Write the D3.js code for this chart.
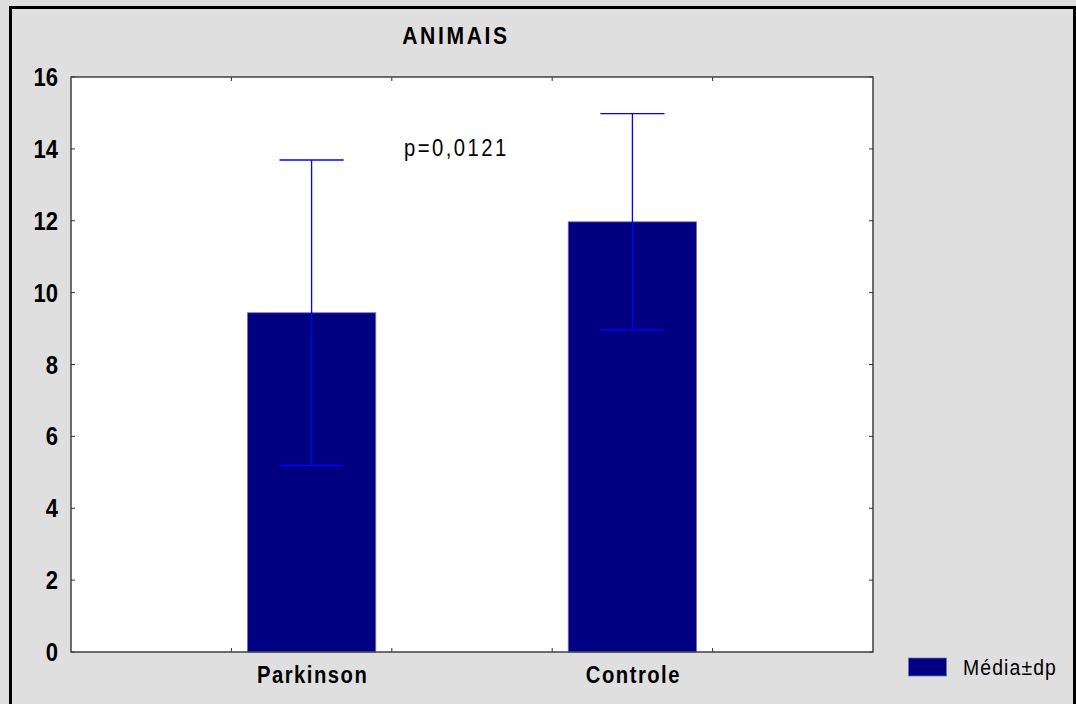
<html>
<meta charset='utf-8'>
<head>
    <script src="https://d3js.org/d3.v7.min.js"></script>
    <style>
      body { margin: 0; background: #dfdfdf; }
      text { font-family: "Liberation Sans", Arial, sans-serif; }
    </style>
</head>
<body>
<div id='viz'></div>
<script>
    // data
    let categories = ['Parkinson', 'Controle'];
    let means = [9.44, 11.97];
    let sds = [4.25, 3.01];
    let yTicks = [0, 2, 4, 6, 8, 10, 12, 14, 16];
    let title = 'ANIMAIS';
    let note = 'p=0,0121';
    let legendLabel = 'Média±dp';

    let width = 1076, height = 704;
    let margin = {left: 71, top: 77, right: 203, bottom: 52};
    let w = width - margin.left - margin.right;
    let h = height - margin.top - margin.bottom;
    let narrow = 0.88; // the original font is a condensed one

    let svg = d3.select('#viz').append('svg')
                .attr('width', width)
                .attr('height', height);

    // outer frame
    svg.append('rect')
       .attr('x', 0).attr('y', 0)
       .attr('width', width).attr('height', height)
       .attr('fill', '#dfdfdf');
    svg.append('path')
       .attr('d', `M10.5,${height + 5}V7.5H1074.5V${height + 5}`)
       .attr('fill', 'none')
       .attr('stroke', '#000')
       .attr('stroke-width', 3);

    // condensed text helper
    function label(parent, tx, ty, str, size, weight, spacing, anchor) {
      return parent.append('g')
        .attr('transform', `translate(${tx},${ty}) scale(${narrow},1)`)
        .append('text')
        .attr('text-anchor', anchor || 'start')
        .attr('font-size', size + 'px')
        .attr('font-weight', weight)
        .attr('letter-spacing', spacing + 'px')
        .text(str);
    }

    let g = svg.append('g').attr('transform', `translate(${margin.left},${margin.top})`);

    let x = d3.scalePoint().domain(categories).range([0, w]).padding(0.75);
    let y = d3.scaleLinear().domain([0, 16]).range([h, 0]);
    let step = x.step();
    let barW = step * 0.4;

    g.append('rect')
     .attr('width', w).attr('height', h)
     .attr('fill', '#fff');

    let data = categories.map((c, i) => ({cat: c, mean: means[i], sd: sds[i]}));

    g.selectAll('.bar').data(data).enter().append('rect')
     .attr('class', 'bar')
     .attr('x', d => x(d.cat) - barW / 2)
     .attr('y', d => y(d.mean))
     .attr('width', barW)
     .attr('height', d => h - y(d.mean))
     .attr('fill', '#000080')
     .attr('stroke', '#7070c0')
     .attr('stroke-width', 0.8);

    // error bars
    let eb = g.selectAll('.err').data(data).enter().append('g')
              .attr('stroke', '#0000ff')
              .attr('stroke-width', 1.3);
    eb.append('line')
      .attr('x1', d => x(d.cat)).attr('x2', d => x(d.cat))
      .attr('y1', d => y(d.mean + d.sd)).attr('y2', d => y(d.mean - d.sd));
    eb.append('line')
      .attr('x1', d => x(d.cat) - barW / 4).attr('x2', d => x(d.cat) + barW / 4)
      .attr('y1', d => y(d.mean + d.sd)).attr('y2', d => y(d.mean + d.sd));
    eb.append('line')
      .attr('x1', d => x(d.cat) - barW / 4).attr('x2', d => x(d.cat) + barW / 4)
      .attr('y1', d => y(d.mean - d.sd)).attr('y2', d => y(d.mean - d.sd));

    // ticks between categories (all four sides, pointing inward)
    let xTickPos = [];
    categories.forEach(c => { xTickPos.push(x(c) - step / 4, x(c) + step / 4); });
    let tk = g.append('g').attr('stroke', '#333').attr('stroke-width', 1);
    xTickPos.forEach(p => {
      tk.append('line').attr('x1', p).attr('x2', p).attr('y1', h).attr('y2', h - 4);
      tk.append('line').attr('x1', p).attr('x2', p).attr('y1', 0).attr('y2', 4);
    });
    yTicks.forEach(t => {
      tk.append('line').attr('x1', 0).attr('x2', 4).attr('y1', y(t)).attr('y2', y(t));
      tk.append('line').attr('x1', w).attr('x2', w - 4).attr('y1', y(t)).attr('y2', y(t));
    });

    g.append('rect')
     .attr('width', w).attr('height', h)
     .attr('fill', 'none')
     .attr('stroke', '#404040')
     .attr('stroke-width', 1.5);

    // y tick labels
    yTicks.forEach(t => {
      label(g, -13, y(t) + 9, t, 25, 'bold', 0, 'end');
    });

    // x labels
    categories.forEach(c => {
      label(g, x(c) + 1, h + 31, c, 23, 'bold', 1.7, 'middle');
    });

    // title
    label(svg, 456, 44, title, 24, 'bold', 3, 'middle');

    // p value
    label(svg, 404, 156, note, 23, 'normal', 2.8);

    // legend
    svg.append('rect')
       .attr('x', 908.5).attr('y', 658)
       .attr('width', 38).attr('height', 18)
       .attr('fill', '#000080')
       .attr('stroke', '#7070c0')
       .attr('stroke-width', 0.8);
    label(svg, 963, 675, legendLabel, 22, 'normal', 1.3);
</script>
</body>
</html>
